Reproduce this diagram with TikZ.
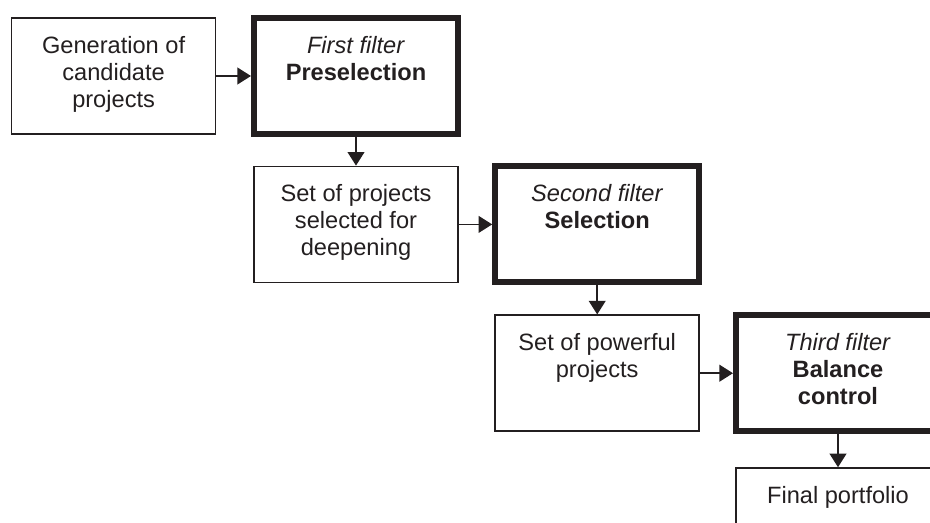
\documentclass[tikz,border=0pt]{standalone}
\usepackage{fontspec}
\setmainfont{Liberation Sans}
\usetikzlibrary{arrows.meta}
\definecolor{InkGray}{RGB}{35,31,32}
\newcommand{\boxtext}[1]{\parbox[c][2.9cm][t]{5.1cm}{\centering\rule{0pt}{0.875cm}#1}}

\begin{document}
\begin{tikzpicture}
    [StepBox/.style={rectangle, draw=InkGray, line width=1.1pt, minimum width=5.1cm, minimum height=2.9cm, inner sep=0pt, text=InkGray, font=\fontsize{16.8}{19.3}\selectfont},
     FilterBox/.style={StepBox, line width=4.3pt},
     >={Triangle[length=0.34cm, width=0.42cm]}]
    \useasboundingbox (0, 0) rectangle (23.25, -13.05);
    \clip (0, 0) rectangle (23.25, -13.05);
    \node[StepBox] (gen) at (2.84, -1.9){\boxtext{Generation of\\candidate\\projects}};
    \node[FilterBox] (pre) at (8.9, -1.9){\boxtext{\textit{First filter}\\\textbf{Preselection}}};
    \node[StepBox] (deep) at (8.9, -5.61){\boxtext{Set of projects\\selected for\\deepening}};
    \node[FilterBox] (sel) at (14.93, -5.61){\boxtext{\textit{Second filter}\\\textbf{Selection}}};
    \node[StepBox] (pow) at (14.93, -9.33){\boxtext{Set of powerful\\projects}};
    \node[FilterBox] (bal) at (20.95, -9.33){\boxtext{\textit{Third filter}\\\textbf{Balance}\\\textbf{control}}};
    \node[StepBox] (fin) at (20.95, -13.15){\boxtext{Final portfolio}};
    \draw[->, line width=1.1pt, InkGray] (gen) -- (pre);
    \draw[->, line width=1.1pt, InkGray] (pre) -- (deep);
    \draw[->, line width=1.1pt, InkGray] (deep) -- (sel);
    \draw[->, line width=1.1pt, InkGray] (sel) -- (pow);
    \draw[->, line width=1.1pt, InkGray] (pow) -- (bal);
    \draw[->, line width=1.1pt, InkGray] (bal) -- (fin);
\end{tikzpicture}
\end{document}
